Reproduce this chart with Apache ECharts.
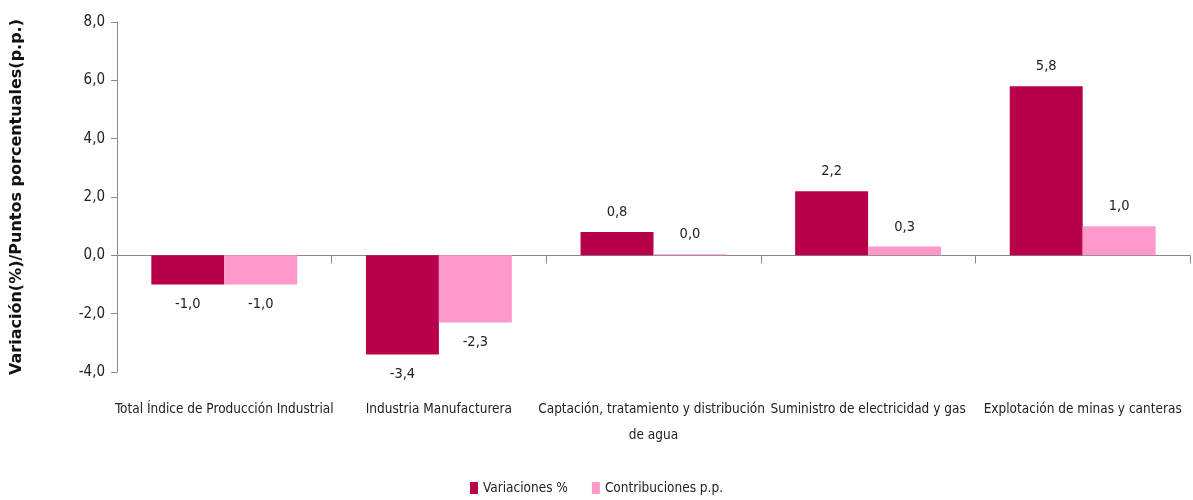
<!DOCTYPE html>
<html><head><meta charset="utf-8">
<script src="https://cdn.jsdelivr.net/npm/echarts@6/dist/echarts.min.js"></script>
<style>html,body{margin:0;padding:0;background:#fff}#c{width:1193px;height:500px}</style>
</head><body><div id="c"></div>
<script>
var categories = ["Total Índice de Producción Industrial","Industria Manufacturera","Captación, tratamiento y distribución de agua","Suministro de electricidad y gas","Explotación de minas y canteras"];
var variaciones = [-1.0, -3.4, 0.8, 2.2, 5.8];
var contribuciones = [-1.0, -2.3, 0.04, 0.3, 1.0];
var seriesNames = ["Variaciones %", "Contribuciones p.p."];
var FONT = "'Liberation Sans Narrow','DejaVu Sans Condensed',sans-serif";
function fmt(v){ return (Math.round(v*10)/10).toFixed(1).replace('.', ','); }
var chart = echarts.init(document.getElementById('c'));
var lbl = {show:true, position:'outside', distance:12, fontFamily:FONT, fontSize:14.5, color:'#222', formatter:function(p){return fmt(p.value);}};
function mkData(arr){ return arr.map(function(v){ return {value:v, label:{position: v<0?'bottom':'top'}}; }); }
chart.setOption({
  animation:false,
  grid:{left:117, right:3, top:22, bottom:128, containLabel:false, outerBoundsMode:'none'},
  legend:{bottom:0, left:'center', itemWidth:8, itemHeight:12, itemGap:24, icon:'rect', textStyle:{fontFamily:FONT, fontSize:13.5, color:'#222'}, data:seriesNames},
  xAxis:[
    {type:'category', data:categories, position:'bottom', axisLine:{onZero:true, lineStyle:{color:'#888'}}, axisTick:{show:true, interval:0, length:8, lineStyle:{color:'#888'}}, axisLabel:{show:false}},
    {type:'category', data:categories, position:'bottom', axisLine:{show:false, onZero:false}, axisTick:{show:false}, axisLabel:{show:true, margin:24, interval:0, width:245, overflow:'break', lineHeight:26, fontFamily:FONT, fontSize:13.5, color:'#222'}}
  ],
  yAxis:{type:'value', min:-4, max:8, interval:2, splitLine:{show:false}, axisLine:{show:true, lineStyle:{color:'#888'}}, axisTick:{show:true, length:6, lineStyle:{color:'#888'}},
    axisLabel:{formatter:function(v){return fmt(v);}, fontFamily:FONT, fontSize:15, color:'#222', margin:12},
    name:'Variación(%)/Puntos porcentuales(p.p.)', nameLocation:'middle', nameGap:92, nameRotate:90, nameTextStyle:{fontFamily:"'DejaVu Sans',sans-serif", fontWeight:'bold', fontSize:16, color:'#111'}},
  series:[
    {name:seriesNames[0], type:'bar', xAxisIndex:0, data:mkData(variaciones), itemStyle:{color:'#B8004B'}, barGap:'0%', barCategoryGap:'32%', label:lbl},
    {name:seriesNames[1], type:'bar', xAxisIndex:0, data:mkData(contribuciones), itemStyle:{color:'#FF99CC'}, barGap:'0%', barCategoryGap:'32%', label:lbl}
  ]
});
</script></body></html>
